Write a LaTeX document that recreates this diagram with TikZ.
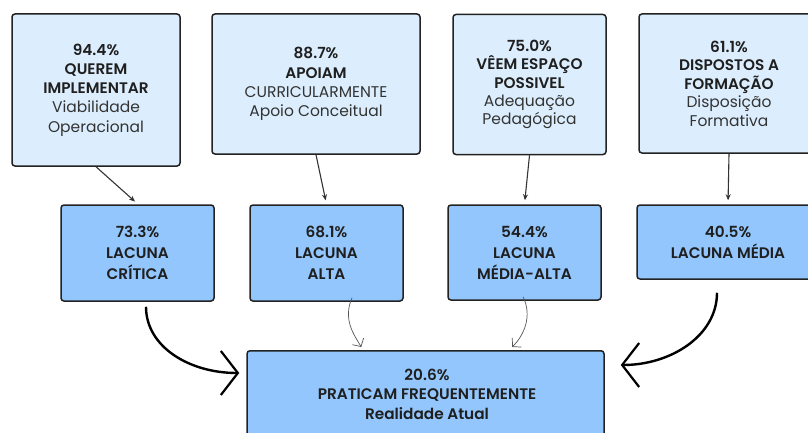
\documentclass[tikz,border=0pt]{standalone}
\usepackage{fontspec}
\setmainfont{Poppins}[BoldFont={Poppins SemiBold}]
\usetikzlibrary{arrows.meta,calc}
\definecolor{lightbox}{HTML}{DCEEFD}
\definecolor{midbox}{HTML}{93C6FC}
\definecolor{edgec}{HTML}{222222}
\definecolor{txtb}{HTML}{1F1F1F}
\definecolor{txtr}{HTML}{333333}
\definecolor{thinc}{HTML}{333333}
\definecolor{curvec}{HTML}{555555}
\newcommand{\rl}[1]{{\color{txtr}\fontsize{15.5}{19.3}\selectfont #1}}
\begin{document}
\begin{tikzpicture}[x=1pt,y=-1pt,
  box/.style={draw=edgec, line width=1.5pt, rounded corners=3pt, align=center,
    font=\fontsize{15.3}{19.3}\selectfont, text=txtb, inner sep=0pt},
  topbox/.style={box, fill=lightbox},
  gapbox/.style={box, fill=midbox},
  thinarrow/.style={draw=thinc, line width=1.1pt, -{Stealth[length=6pt,width=5pt]}, shorten >=4pt},
  softarrow/.style={draw=curvec, line width=0.7pt, -{Straight Barb[length=6pt,width=13pt]}},
  boldarrow/.style={draw=black, line width=2.4pt, -{Straight Barb[length=17pt,width=44pt,line width=2.2pt]}}
]
\useasboundingbox (0,0) rectangle (808,433);
\clip (0,0) rectangle (808,433);
\fill[white] (0,0) rectangle (808,433);

% top row
\node[topbox, minimum width=168pt, minimum height=152pt] (q1) at (96,90)
  {\textbf{94.4\%}\\\textbf{QUEREM}\\\textbf{IMPLEMENTAR}\\\rl{Viabilidade}\\\rl{Operacional}};
\node[topbox, minimum width=208pt, minimum height=140pt] (q2) at (316,84)
  {\textbf{88.7\%}\\\textbf{APOIAM}\\\rl{CURRICULARMENTE}\\\rl{Apoio Conceitual}};
\node[topbox, minimum width=153pt, minimum height=140pt, font=\fontsize{15.3}{18.3}\selectfont] (q3) at (529.5,84.5)
  {\textbf{75.0\%}\\\textbf{VÊEM ESPAÇO}\\\textbf{POSSIVEL}\\\rl{Adequação}\\\rl{Pedagógica}};
\node[topbox, minimum width=180pt, minimum height=139pt, font=\fontsize{15.3}{18.5}\selectfont] (q4) at (729,83.5)
  {\textbf{61.1\%}\\\textbf{DISPOSTOS A}\\\textbf{FORMAÇÃO}\\\rl{Disposição}\\\rl{Formativa}};

% middle row
\node[gapbox, minimum width=153pt, minimum height=96pt, font=\fontsize{15.3}{21}\selectfont] (m1) at (137.5,253)
  {\textbf{73.3\%}\\\textbf{LACUNA}\\\textbf{CRÍTICA}};
\node[gapbox, minimum width=153pt, minimum height=96pt, font=\fontsize{15.3}{21}\selectfont] (m2) at (326.5,253)
  {\textbf{68.1\%}\\\textbf{LACUNA}\\\textbf{ALTA}};
\node[gapbox, minimum width=153pt, minimum height=95pt, font=\fontsize{15.3}{21}\selectfont] (m3) at (524.5,252.5)
  {\textbf{54.4\%}\\\textbf{LACUNA}\\\textbf{MÉDIA-ALTA}};
\node[gapbox, minimum width=182pt, minimum height=74pt, font=\fontsize{15.3}{21}\selectfont] (m4) at (728,242)
  {\textbf{40.5\%}\\\textbf{LACUNA MÉDIA}};

% bottom
\node[gapbox, minimum width=357pt, minimum height=100pt, anchor=north] (b) at (425.5,350) {};
\node[font=\fontsize{15.3}{19.5}\selectfont, text=txtb, align=center, inner sep=0pt] (bt) at (427,394)
  {\textbf{20.6\%}\\\textbf{PRATICAM FREQUENTEMENTE}\\\textbf{Realidade Atual}};

% top to middle
\draw[thinarrow] (q1.south) -- ($(m1.north)+(0.5,0)$);
\draw[thinarrow] (q2.south) -- (m2.north);
\draw[thinarrow] (q3.south) -- (m3.north);
\draw[thinarrow] (q4.south) -- (m4.north);

% middle to bottom
\draw[boldarrow] ($(m1.south)+(8.5,5)$) .. controls ($(m1.south)+(8.5,45)$) and ($(b.north west)+(-57,23)$) .. ($(b.north west)+(-7,23)$);
\draw[softarrow] ($(m2.south)+(25.5,-4)$) .. controls ($(m2.south)+(16,18)$) and ($(b.north west)+(108,-15)$) .. ($(b.north west)+(115,-3)$);
\draw[softarrow] ($(m3.south)+(-1.5,-4)$) .. controls ($(m3.south)+(8,15)$) and ($(b.north west)+(278,-15)$) .. ($(b.north west)+(266,-3)$);
\draw[boldarrow] ($(m4.south)+(-11,13)$) .. controls ($(m4.south)+(-11,56)$) and ($(b.north east)+(66,15)$) .. ($(b.north east)+(16,15)$);
\end{tikzpicture}
\end{document}
